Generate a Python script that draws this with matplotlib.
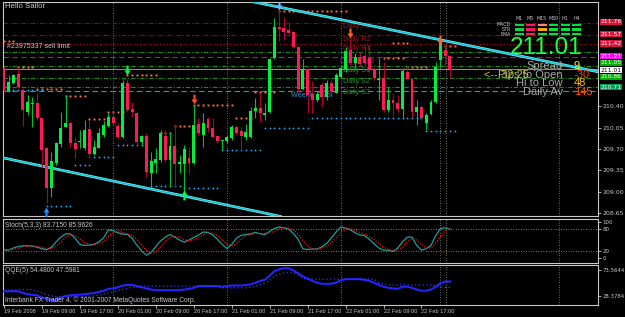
import matplotlib
matplotlib.use('Agg')
import matplotlib.pyplot as plt
import matplotlib.transforms as mtransforms
from matplotlib.path import Path
from matplotlib.patches import Rectangle
import numpy as np

# ---------------- DATA ----------------
opens = [211.03, 210.65, 210.78, 210.93, 210.67, 210.30, 210.44, 210.45, 210.21, 209.71,
         209.06, 209.47, 209.78, 210.06, 210.12, 209.80, 209.81, 209.71, 210.03, 209.62,
         209.71, 209.93, 210.07, 210.22, 210.07, 209.89, 210.78, 210.35, 210.29, 209.81,
         209.91, 209.30, 209.47, 209.52, 209.91, 209.52, 209.75, 209.45, 209.45, 209.55,
         209.47, 210.11, 209.93, 210.19, 210.04, 209.91, 209.83, 209.83, 209.88, 210.06,
         209.99, 209.89, 209.89, 210.32, 210.37, 210.26, 210.30, 211.19, 211.70, 211.68,
         211.65, 211.62, 211.37, 210.68, 211.01, 210.60, 210.50, 210.75, 210.55, 210.78,
         210.62, 210.88, 210.99, 211.32, 211.11, 211.21, 211.22, 211.19, 211.01, 210.83,
         210.86, 210.34, 210.50, 210.45, 210.35, 210.96, 210.85, 210.30, 210.39, 210.12,
         210.27, 210.47, 211.16, 211.32, 211.22]
highs = [211.06, 210.91, 210.93, 211.04, 210.70, 210.58, 210.55, 210.62, 210.22, 209.73,
         209.65, 209.81, 210.30, 210.58, 210.14, 209.89, 210.01, 210.17, 210.17, 209.85,
         210.04, 210.16, 210.29, 210.30, 210.12, 210.83, 210.85, 210.47, 210.30, 209.93,
         209.96, 209.65, 209.71, 210.01, 210.01, 209.98, 210.09, 209.60, 209.76, 209.73,
         210.42, 210.21, 210.29, 210.22, 210.21, 209.93, 209.85, 209.93, 210.09, 210.07,
         210.06, 210.11, 210.39, 210.53, 210.62, 210.45, 211.19, 211.84, 212.06, 211.86,
         211.78, 211.63, 211.39, 211.17, 211.03, 210.81, 210.63, 210.80, 210.83, 210.83,
         210.94, 211.07, 211.37, 211.48, 211.27, 211.29, 211.40, 211.40, 211.04, 211.19,
         211.12, 210.71, 210.62, 210.58, 211.03, 211.07, 210.85, 210.50, 210.42, 210.29,
         210.50, 211.12, 211.55, 211.40, 211.24]
lows = [210.63, 210.63, 210.76, 210.70, 210.07, 210.26, 210.06, 210.17, 209.40, 208.81,
        208.91, 209.44, 209.73, 210.06, 209.73, 209.55, 209.71, 209.68, 209.55, 209.60,
        209.71, 209.89, 210.06, 210.07, 209.88, 209.88, 210.30, 210.22, 209.76, 209.76,
        209.24, 209.08, 209.30, 209.49, 209.49, 209.08, 209.08, 209.30, 208.98, 209.30,
        209.45, 209.93, 209.73, 209.98, 209.88, 209.80, 209.68, 209.80, 209.85, 209.93,
        209.68, 209.85, 209.88, 210.21, 210.14, 210.17, 210.29, 211.17, 211.47, 211.48,
        211.55, 211.35, 210.63, 210.66, 210.29, 210.29, 210.47, 210.39, 210.50, 210.62,
        210.62, 210.86, 210.96, 211.07, 211.03, 211.06, 211.06, 210.96, 210.83, 210.50,
        210.30, 210.30, 210.26, 210.30, 210.21, 210.83, 210.22, 210.09, 210.17, 210.01,
        210.26, 210.45, 211.04, 211.07, 210.86]
closes = [210.67, 210.80, 210.91, 210.71, 210.34, 210.47, 210.45, 210.21, 209.68, 209.06,
          209.50, 209.80, 210.04, 210.12, 209.80, 209.70, 209.83, 210.01, 209.62, 209.73,
          209.96, 210.09, 210.22, 210.12, 209.89, 210.78, 210.34, 210.30, 209.81, 209.91,
          209.32, 209.50, 209.53, 209.96, 209.52, 209.75, 209.45, 209.48, 209.70, 209.47,
          210.09, 209.96, 210.12, 210.04, 209.89, 209.83, 209.85, 209.89, 210.06, 209.96,
          209.91, 209.98, 210.32, 210.37, 210.29, 210.29, 211.17, 211.70, 211.66, 211.62,
          211.60, 211.37, 210.68, 211.01, 210.58, 210.50, 210.60, 210.55, 210.78, 210.63,
          210.91, 211.03, 211.30, 211.11, 211.21, 211.09, 211.11, 210.99, 210.86, 210.85,
          210.34, 210.50, 210.45, 210.35, 210.98, 210.85, 210.30, 210.39, 210.21, 210.26,
          210.47, 211.04, 211.45, 211.22, 211.01]

stoch_main = [23, 22, 28, 32, 34, 34, 33, 30, 26, 23, 30, 45, 58, 67, 67, 55, 38, 35, 36, 38,
              45, 56, 78, 76, 70, 66, 66, 55, 36, 20, 8, 15, 32, 47, 58, 65, 58, 50, 44, 50,
              57, 64, 72, 71, 64, 52, 38, 26, 38, 55, 63, 65, 67, 71, 67, 65, 74, 82, 86, 84,
              80, 68, 52, 25, 24, 25, 25, 31, 40, 55, 72, 86, 83, 78, 70, 64, 62, 52, 40, 28,
              22, 22, 18, 28, 45, 58, 58, 35, 22, 26, 35, 62, 82, 84, 80]
stoch_signal = [24, 23, 24, 27, 31, 33, 34, 32, 30, 26, 26, 33, 44, 57, 64, 63, 53, 43, 36, 36,
                40, 46, 60, 70, 75, 71, 67, 62, 52, 37, 21, 14, 18, 31, 46, 57, 60, 58, 51, 48,
                50, 57, 64, 69, 69, 62, 51, 39, 34, 40, 52, 61, 65, 68, 68, 68, 69, 74, 81, 84,
                83, 77, 67, 48, 34, 25, 25, 27, 32, 42, 56, 71, 80, 82, 77, 71, 65, 59, 51, 40,
                30, 24, 21, 23, 30, 44, 54, 50, 38, 28, 28, 41, 60, 76, 82]
qqe_fast = [36, 36, 36, 36, 33, 31, 30, 29, 25, 22, 21, 21, 25, 28, 29, 30, 30, 31, 32, 33,
            35, 37, 40, 41, 43, 46, 47, 47, 45, 43, 41, 39, 38, 38, 38, 38, 38, 38, 39, 40,
            42, 45, 45, 45, 45, 45, 44, 45, 46, 46, 46, 47, 48, 51, 54, 56, 63, 71, 74, 76,
            76, 72, 67, 62, 58, 54, 51, 49, 49, 49, 51, 55, 57, 57, 57, 57, 56, 54, 51, 47,
            44, 42, 41, 40, 44, 44, 42, 39, 37, 37, 39, 44, 50, 53, 53]
qqe_slow = [38, 38, 38, 39, 39, 39, 39, 36, 33, 30, 28, 27, 27, 27, 27, 27, 27, 27, 27, 28,
            29, 31, 33, 35, 37, 39, 41, 43, 43, 45, 45, 45, 45, 45, 45, 45, 45, 45, 45, 45,
            45, 45, 45, 45, 45, 44, 42, 42, 42, 42, 42, 42, 43, 45, 47, 50, 55, 62, 66, 68,
            68, 68, 64, 59, 57, 57, 57, 57, 57, 57, 57, 57, 57, 57, 57, 57, 57, 57, 57, 51,
            49, 47, 47, 47, 47, 47, 47, 47, 47, 47, 47, 46, 44, 43, 43]

date_idx = [0, 8, 16, 24, 32, 40, 48, 56, 64, 72, 80, 88]
date_labels = ['19 Feb 2008', '19 Feb 09:00', '19 Feb 17:00', '20 Feb 01:00', '20 Feb 09:00',
               '20 Feb 17:00', '21 Feb 01:00', '21 Feb 09:00', '21 Feb 17:00', '22 Feb 01:00',
               '22 Feb 09:00', '22 Feb 17:00']
price_ticks = [208.65, 209.00, 209.35, 209.70, 210.05, 210.40]
vgrid_idx = [23, 47, 71, 92, 117]
vmark_idx = [93.1]

hline_prices = [211.76, 211.57, 211.42, 211.29, 211.21, 211.05, 211.01, 210.86, 210.71, 210.65]
hline_colors = ['#a00000', '#a00000', '#d00000', '#1c8c1c', '#b010b0', '#1c8c1c', '#8a8a8a',
                '#1c8c1c', '#1c8c1c', '#1aa0c8']
hline_styles = [(0, (4, 1.6, 1, 1.6)), (0, (4, 1.6, 1, 1.6)), (0, (1, 2)), (0, (4, 1.6, 1, 1.6)),
                (0, (5, 3)), (0, (4, 1.6, 1, 1.6)), '-', (0, (4, 1.6, 1, 1.6)),
                (0, (4, 1.6, 1, 1.6)), (0, (5, 3))]

tag_texts = ['211.76', '211.57', '211.42', '211.21', '211.05', '211.01', '210.86', '210.71']
tag_prices = [211.78, 211.58, 211.43, 211.22, 211.11, 210.99, 210.88, 210.71]
tag_bg = ['#dc143c', '#dc143c', '#dc143c', '#ff00ff', '#00b000', '#ffffff', '#00b000', '#00a050']
tag_fg = ['#ffffff', '#ffffff', '#ffffff', '#ffffff', '#ffffff', '#000000', '#ffffff', '#ffffff']

res_levels = [(0, 2, 211.47), (3, 6, 211.04), (7, 12, 210.68), (13, 17, 210.57), (18, 21, 210.19),
              (22, 25, 210.30), (26, 32, 210.91), (33, 35, 209.96), (36, 39, 210.07),
              (40, 48, 210.42), (49, 52, 210.21), (53, 57, 210.63), (58, 72, 211.96),
              (80, 84, 211.19), (82, 85, 211.44), (85, 89, 211.04), (93, 95, 211.39)]
sup_levels = [(0, 8, 210.66), (9, 14, 208.76), (15, 18, 209.44), (19, 23, 209.57), (24, 30, 209.76),
              (31, 37, 209.09), (38, 45, 209.06), (46, 54, 209.68), (55, 64, 210.04),
              (65, 88, 210.21), (89, 95, 209.99)]

trend_upper = [(52.5, 212.11), (126.0, 210.95)]
trend_lower = [(0.0, 209.55), (58.5, 208.59)]

arrows_up = [(8.8, 208.66, '#1e8fff'), (38.0, 208.94, '#00ff40')]
arrows_dn = [(58.0, 212.06, '#6ab8ff'), (26.0, 210.99, '#00ff40'), (40.0, 210.52, '#ff5010'),
             (73.0, 211.60, '#ff6020'), (92.0, 211.48, '#ff6020')]

pivot_labels = [('Daily R3', 71.5, 211.70, '#a01818'), ('Daily R2', 71.5, 211.50, '#a01818'),
                ('Daily R1', 71.5, 211.35, '#a01818'), ('Daily Pivot', 70.8, 211.14, '#8a209a'),
                ('Daily S1', 71.5, 210.99, '#2a8a2a'), ('Daily S2', 71.5, 210.80, '#2a8a2a'),
                ('Daily S3', 71.5, 210.63, '#2a8a2a'), ('Weekly Pivot', 60.5, 210.58, '#2f8fcf')]

tf_names = ['M1', 'M5', 'M15', 'M30', 'H1', 'H4']
row_names = ['MACD', 'STR', 'EMA']
cell_colors = [['#00e040', '#ff1a55', '#ff8080', '#00e040', '#00e040', '#00e040'],
               ['#00e040', '#ff1a55', '#ffa500', '#00e040', '#00e040', '#00e040'],
               ['#00e040', '#ff1a55', '#00e040', '#00e040', '#00e040', '#00e040']]

info_names = ['Spread', 'Pips to Open', 'Hi to Low', 'Daily Av']
info_values = ['9', '-30', '48', '145']
info_colors = ['#ffff00', '#ff4000', '#ffc000', '#ff5a00']
bid_text = '211.01'
timer_text = '<-- 32:25'

# ---------------- FIGURE ----------------
W, H = 625, 317
fig = plt.figure(figsize=(W / 100, H / 100), dpi=100, facecolor='black')
FG = '#c8c8c8'
SMALL = 'Liberation Sans'

def px_axes(top, bottom, left=3, right=598):
    return fig.add_axes([left / W, 1 - bottom / H, (right - left) / W, (bottom - top) / H])

ax = px_axes(2, 216)
axs = px_axes(219, 263)
axq = px_axes(265, 305)
XL = (-0.2, 125.2)
for a in (ax, axs, axq):
    a.set_facecolor('black')
    a.set_xlim(*XL)
    for sp in a.spines.values():
        sp.set_color(FG)
        sp.set_linewidth(0.8)
    a.yaxis.tick_right()
    a.tick_params(axis='y', colors=FG, labelsize=4.5, length=2, width=0.6, pad=1)
    a.set_xticks([])
    for v in vgrid_idx:
        a.axvline(v, color='#8c8c8c', lw=0.6, ls=(0, (1, 2)), zorder=1)
    for v in vmark_idx:
        a.axvline(v, color='#a0a070', lw=0.6, ls=(0, (1, 2)), zorder=1)

# ---- main price panel ----
ax.set_ylim(208.60, 212.107)
ax.set_yticks(price_ticks)
ax.set_yticklabels(['%.2f' % p for p in price_ticks])

for p, c, s in zip(hline_prices, hline_colors, hline_styles):
    ax.axhline(p, color=c, ls=s, lw=0.8, zorder=2)

for (s, e, p) in res_levels:
    xs = np.arange(s, e + 1)
    ax.plot(xs, [p] * len(xs), ls='none', marker='s', ms=1.4, color='#ff7040', mew=0, zorder=3)
for (s, e, p) in sup_levels:
    xs = np.arange(s, e + 1)
    ax.plot(xs, [p] * len(xs), ls='none', marker='+', ms=2.0, color='#1ea0e0', mew=0.6, zorder=3)

for (x0, y0), (x1, y1) in (trend_upper, trend_lower):
    ax.plot([x0, x1], [y0, y1], color='#8ef0ff', lw=1.9, zorder=4, solid_capstyle='butt')
    ax.plot([x0, x1], [y0, y1], color='#00c8d4', lw=1.0, zorder=4)

idx = np.arange(len(opens))
o = np.array(opens); c = np.array(closes); h = np.array(highs); l = np.array(lows)
bull = c >= o
ax.vlines(idx[bull], l[bull], h[bull], color='#00c030', lw=0.8, zorder=5)
ax.vlines(idx[~bull], l[~bull], h[~bull], color='#b0002c', lw=0.8, zorder=5)
body_h = np.maximum(np.abs(c - o), 0.012)
ax.bar(idx[bull], body_h[bull], bottom=np.minimum(o, c)[bull], width=0.62, color='#00f040', zorder=6)
ax.bar(idx[~bull], body_h[~bull], bottom=np.minimum(o, c)[~bull], width=0.62, color='#ff1a55', zorder=6)

# arrow markers
dn = Path([(-0.22, 1), (0.22, 1), (0.22, 0.0), (0.62, 0.0), (0, -1), (-0.62, 0.0), (-0.22, 0.0), (-0.22, 1)],
          [Path.MOVETO] + [Path.LINETO] * 6 + [Path.CLOSEPOLY])
up = Path([(x, -y) for x, y in dn.vertices], dn.codes)
for x, y, col in arrows_up:
    ax.plot([x], [y], marker=up, ms=7, color=col, mew=0, zorder=7)
for x, y, col in arrows_dn:
    ax.plot([x], [y], marker=dn, ms=7, color=col, mew=0, zorder=7)

for t, x, y, col in pivot_labels:
    ax.text(x, y, t, fontsize=5.2, color=col, va='center', ha='left', zorder=3, family=SMALL)
ax.text(0.7, 211.37, '#23975337 sell limit', fontsize=5, color=FG, va='center', ha='left',
        zorder=3, family=SMALL)

btrans = mtransforms.blended_transform_factory(ax.transAxes, ax.transData)
for t, p, bg, fg in zip(tag_texts, tag_prices, tag_bg, tag_fg):
    ax.text(1.004, p, t, transform=btrans, fontsize=4.3, color=fg, va='center', ha='left',
            clip_on=False, bbox=dict(boxstyle='square,pad=0.12', fc=bg, ec='none'), zorder=8)

# ---- stochastic panel ----
axs.set_ylim(-13.5, 108)
axs.set_yticks([0, 20, 80, 100])
axs.set_yticklabels(['0', '20', '80', '100'])
axs.tick_params(axis='y', labelsize=4.0)
for lv in (20, 80):
    axs.axhline(lv, color='#a0a0a0', lw=0.6, ls=(0, (1, 2)))
axs.plot(idx, stoch_main, color='#1e9e9e', lw=0.9, zorder=3)
axs.plot(idx, stoch_signal, color='#ff1010', lw=0.9, ls=(0, (1, 1.2)), zorder=3)
axs.text(0.004, 0.86, 'Stoch(5,3,3) 83.7150 85.9626', transform=axs.transAxes, fontsize=4.8,
         color=FG, va='center', ha='left', family=SMALL)

# ---- QQE panel ----
axq.set_ylim(12.2, 81.6)
axq.set_yticks([28.3784, 73.5644])
axq.set_yticklabels(['28.3784', '73.5644'])
axq.tick_params(axis='y', labelsize=3.9)
axq.plot(idx, qqe_fast, color='#2424ff', lw=1.5, zorder=3)
axq.plot(idx, qqe_slow, color='#3a3aff', lw=0.9, ls=(0, (1, 2)), zorder=3)
axq.text(0.004, 0.85, 'QQE(5) 54.4800 47.5981', transform=axq.transAxes, fontsize=4.8,
         color=FG, va='center', ha='left', family=SMALL)
axq.text(0.004, 0.12, 'Interbank FX Trader 4, \u00a9 2001-2007 MetaQuotes Software Corp.',
         transform=axq.transAxes, fontsize=4.8, color=FG, va='center', ha='left', family=SMALL)
axq.set_xticks(date_idx)
axq.set_xticklabels(date_labels, ha='left', family=SMALL)
axq.tick_params(axis='x', colors=FG, labelsize=4.1, length=2, width=0.6, pad=1)

# ---------------- overlay (pixel coordinates) ----------------
ov = fig.add_axes([0, 0, 1, 1], facecolor='none')
ov.set_xlim(0, W); ov.set_ylim(H, 0); ov.axis('off')
ov.set_zorder(10)

ov.text(5, 6, 'Hello Sailor', fontsize=5.6, color=FG, va='center', ha='left', family=SMALL)

col_x = [519, 530.5, 542, 553.5, 565, 576.5]
row_y = [25, 29.5, 34]
for j, nm in enumerate(tf_names):
    ov.text(col_x[j], 18.5, nm, fontsize=3.4, color=FG, va='center', ha='center')
for i, nm in enumerate(row_names):
    ov.text(511, row_y[i], nm, fontsize=3.4, color=FG, va='center', ha='right')
    for j in range(len(tf_names)):
        ov.add_patch(Rectangle((col_x[j] - 4.5, row_y[i] - 1.3), 9, 2.8, fc=cell_colors[i][j], ec='none'))

ov.text(546, 48.5, bid_text, fontsize=17.5, color='#20ff40', va='center', ha='center',
        family='Liberation Sans')
info_y = [66, 75, 83.5, 92]
for y, nm, val, col in zip(info_y, info_names, info_values, info_colors):
    ov.text(563, y, nm, fontsize=8, color='#a8a8a8', va='center', ha='right', family='Liberation Sans')
    ov.text(574, y, val, fontsize=8, color=col, va='center', ha='left', family='Liberation Sans')
ov.text(484, 75, timer_text, fontsize=8, color='#c8c800', va='center', ha='left', family='Liberation Sans')

fig.savefig('out.png', dpi=100, facecolor='black')
